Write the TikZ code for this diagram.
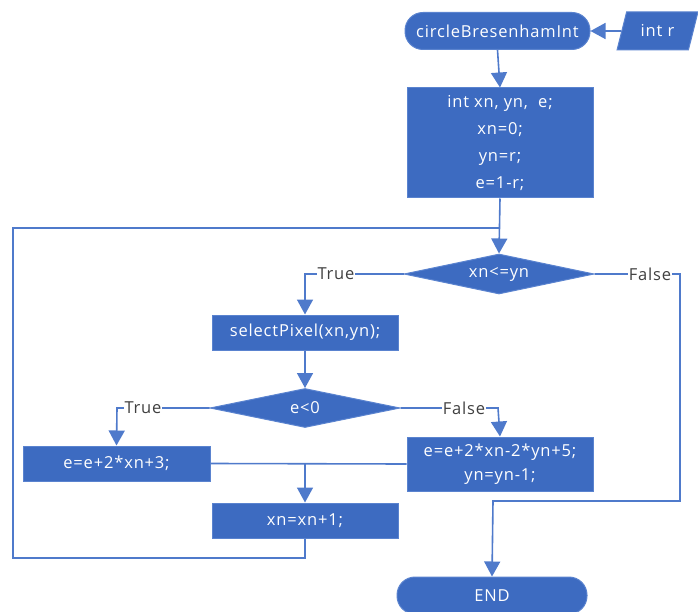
\documentclass[tikz,border=0pt]{standalone}
\usepackage{fontspec}
\setmainfont{Open Sans}[LetterSpace=5]
\usetikzlibrary{arrows.meta,shapes.geometric}

\definecolor{boxblue}{HTML}{3D6BC1}
\definecolor{edgeblue}{HTML}{5A83CF}
\definecolor{lineblue}{HTML}{4F7ACB}
\definecolor{labelgray}{HTML}{404040}

\tikzset{
  flow/.style={draw=lineblue, line width=1.6pt},
  flowarrow/.style={flow, -{Triangle[width=16pt,length=15pt]}},
  boxtext/.style={text=white, font=\fontsize{16.5}{27}\selectfont, align=center},
  procbox/.style={rectangle, fill=boxblue, draw=edgeblue, line width=1pt,
    boxtext, inner sep=0pt},
  terminal/.style={rectangle, rounded corners=18pt, fill=boxblue, draw=edgeblue,
    line width=1pt, boxtext, inner sep=0pt, minimum height=37pt},
  decision/.style={diamond, fill=boxblue, draw=edgeblue, line width=1pt,
    boxtext, inner sep=0pt, shape aspect=4.75},
  inputbox/.style={trapezium, trapezium left angle=67, trapezium right angle=113,
    trapezium stretches=true, fill=boxblue, draw=edgeblue, line width=1pt,
    boxtext, inner sep=0pt},
  branch/.style={fill=white, text=labelgray, font=\fontsize{16.5}{18}\selectfont,
    inner sep=1pt}
}

\begin{document}
\begin{tikzpicture}[x=1pt,y=-1pt]
  \useasboundingbox (0,0) rectangle (698,612);

  % blocks of the flowchart
  \node[terminal, minimum width=185pt] (start) at (497.5,31) {circleBresenhamInt};
  \node[inputbox, minimum width=81pt, minimum height=38pt] (input) at (657.5,31) {int r};
  \node[procbox, minimum width=186pt, minimum height=110pt] (init) at (500,143)
    {int xn, yn,~ e;\\ xn=0;\\ yn=r;\\ e=1-r;};
  \node[decision, minimum width=190pt, minimum height=40pt] (cond) at (499,274) {xn<=yn};
  \node[procbox, minimum width=186pt, minimum height=35pt] (pixel) at (305,332.5)
    {selectPixel(xn,yn);};
  \node[decision, minimum width=190pt, minimum height=39pt] (sign) at (305,408) {e<0};
  \node[procbox, minimum width=187pt, minimum height=35pt] (neg) at (116.5,463.5)
    {e=e+2*xn+3;};
  \node[procbox, minimum width=186pt, minimum height=54pt, font=\fontsize{16.5}{24}\selectfont]
    (pos) at (500,464) {e=e+2*xn-2*yn+5;\\ yn=yn-1;};
  \node[procbox, minimum width=186pt, minimum height=35pt] (step) at (305,520.5)
    {xn=xn+1;};
  \node[terminal, minimum width=190pt, minimum height=37pt] (stop) at (492,595.5) {END};

  % junction points of the connectors
  \coordinate (loopin) at (500,228);
  \coordinate (merge) at (305,464);

  % connectors
  \draw[flowarrow] (input.west) -- (start.east);
  \draw[flowarrow] (start.south) -- (init.north);
  \draw[flowarrow] (init.south) -- (cond.north);

  \draw[flowarrow] (cond.west) -- (305,274) -- (pixel.north);
  \node[branch] at (336,274) {True};
  \draw[flowarrow] (cond.east) -- (680,274) -- (680,501) -- (493,501) -- (stop.north);
  \node[branch] at (650,274) {False};

  \draw[flowarrow] (pixel.south) -- (sign.north);
  \draw[flowarrow] (sign.west) -- (117,408) -- (neg.north);
  \node[branch] at (143,408) {True};
  \draw[flowarrow] (sign.east) -- (498,408) -- (pos.north);
  \node[branch] at (464,408) {False};

  \draw[flow] (neg.east) -- (pos.west);
  \draw[flowarrow] (merge) -- (step.north);
  \draw[flow] (step.south) -- (305,558) -- (13,558) -- (13,228) -- (loopin);
\end{tikzpicture}
\end{document}
